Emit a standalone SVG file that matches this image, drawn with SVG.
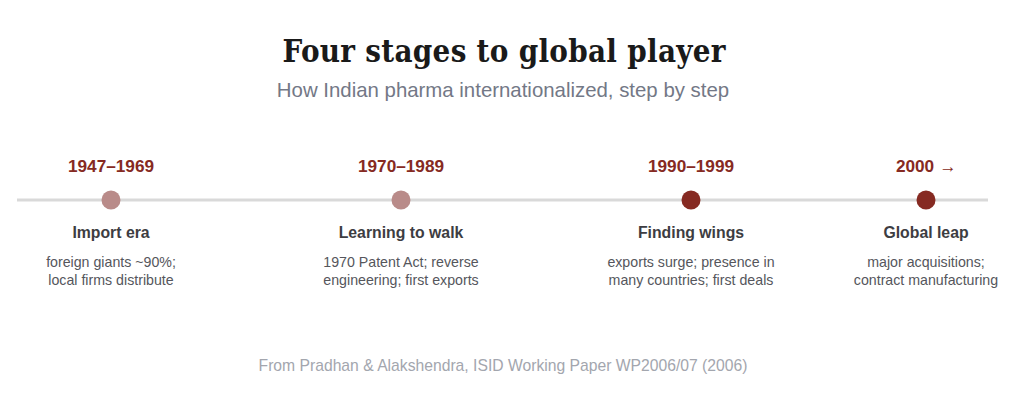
<svg xmlns="http://www.w3.org/2000/svg" width="1024" height="410" viewBox="0 0 1024 410">
<style>
.title{font-family:"DejaVu Serif Condensed","DejaVu Serif","Liberation Serif",serif;font-stretch:condensed;font-weight:bold;font-size:31px;fill:#1a1a1a;text-anchor:middle}
.sub{font-family:"Liberation Sans",Arial,sans-serif;font-size:20.4px;fill:#737886;text-anchor:middle}
.year{font-family:"Liberation Sans",Arial,sans-serif;font-weight:bold;font-size:17.2px;fill:#862a22;text-anchor:middle}
.name{font-family:"Liberation Sans",Arial,sans-serif;font-weight:bold;font-size:15.8px;fill:#3d3d42;text-anchor:middle}
.desc{font-family:"Liberation Sans",Arial,sans-serif;font-size:14.2px;fill:#55565c;text-anchor:middle}
.foot{font-family:"Liberation Sans",Arial,sans-serif;font-size:15.7px;fill:#a3a6ae;text-anchor:middle}
.early{fill:#b98b89}
.late{fill:#862a22}
</style>
<rect width="1024" height="410" fill="#ffffff"/>
<text class="title" x="504" y="62" textLength="443" lengthAdjust="spacing">Four stages to global player</text>
<text class="sub" x="503" y="97">How Indian pharma internationalized, step by step</text>
<g id="connectors">
<line x1="17" y1="200" x2="988" y2="200" stroke="#d9d9d9" stroke-width="3"/>
</g>
<g id="stage1">
<text class="year" x="111" y="172">1947–1969</text>
<circle class="early" cx="111" cy="200" r="9.5"/>
<text class="name" x="111" y="238">Import era</text>
<text class="desc" x="111" y="267">foreign giants ~90%;</text>
<text class="desc" x="111" y="285">local firms distribute</text>
</g>
<g id="stage2">
<text class="year" x="401" y="172">1970–1989</text>
<circle class="early" cx="401" cy="200" r="9.5"/>
<text class="name" x="401" y="238">Learning to walk</text>
<text class="desc" x="401" y="267">1970 Patent Act; reverse</text>
<text class="desc" x="401" y="285">engineering; first exports</text>
</g>
<g id="stage3">
<text class="year" x="691" y="172">1990–1999</text>
<circle class="late" cx="691" cy="200" r="9.5"/>
<text class="name" x="691" y="238">Finding wings</text>
<text class="desc" x="691" y="267">exports surge; presence in</text>
<text class="desc" x="691" y="285">many countries; first deals</text>
</g>
<g id="stage4">
<text class="year" x="926" y="172">2000 →</text>
<circle class="late" cx="926" cy="200" r="9.5"/>
<text class="name" x="926" y="238">Global leap</text>
<text class="desc" x="926" y="267">major acquisitions;</text>
<text class="desc" x="926" y="285">contract manufacturing</text>
</g>
<text class="foot" x="503" y="371">From Pradhan &amp; Alakshendra, ISID Working Paper WP2006/07 (2006)</text>
</svg>
